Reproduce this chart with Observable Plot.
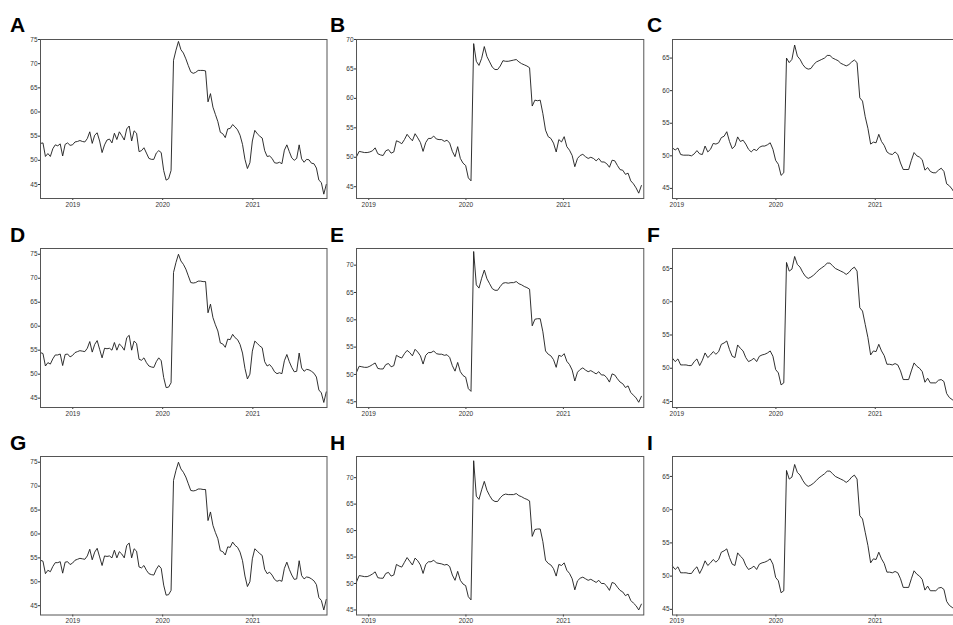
<!DOCTYPE html>
<html><head><meta charset="utf-8">
<script src="https://cdn.jsdelivr.net/npm/d3@7"></script>
<script src="https://cdn.jsdelivr.net/npm/@observablehq/plot@0.6"></script>
<style>
html,body{margin:0;padding:0;background:#fff;}
#wrap{position:relative;width:953px;height:625px;overflow:hidden;background:#fff;}
.lbl{position:absolute;font:bold 21px "Liberation Sans",Arial,sans-serif;line-height:21px;color:#000;}
.panel{position:absolute;}
</style></head><body><div id="wrap"></div>
<script>
// ---- data (values sampled every 10 days from each panel's start date) ----
const panelLabels = ["A","B","C","D","E","F","G","H","I"];
const yearTickLabels = [2019, 2020, 2021];
const yTicks75 = [45, 50, 55, 60, 65, 70, 75];
const yTicks70 = [45, 50, 55, 60, 65, 70];
const yTicks65 = [45, 50, 55, 60, 65];

const seriesA = [
53.5,53.6,50.8,51.4,50.8,52.4,53.2,53.0,53.4,50.9,
53.3,53.6,53.1,53.2,53.8,53.9,54.1,53.9,53.8,54.5,
55.9,53.5,55.2,55.7,54.0,51.6,53.2,54.2,54.4,53.6,
55.6,54.3,55.9,55.1,54.2,56.5,57.1,54.0,56.1,55.6,
51.8,52.0,52.6,51.5,50.4,50.2,50.2,51.5,52.0,51.6,
47.9,45.9,46.2,47.9,70.7,72.8,74.6,72.9,72.2,71.0,
69.6,68.3,68.0,68.2,68.6,68.6,68.6,68.5,62.1,63.8,
61.0,59.5,58.0,55.8,55.5,54.7,56.5,56.6,57.4,56.9,
56.3,55.2,53.3,50.2,48.3,49.5,54.0,56.2,55.5,55.0,
54.6,52.0,50.8,50.9,50.4,49.5,49.4,49.6,49.3,52.1,
53.2,51.8,50.5,50.0,50.4,53.2,50.3,49.6,50.2,50.1,
49.4,49.3,48.4,45.9,45.4,43.0,45.0];

const seriesB = [
50.1,51.0,50.9,50.8,50.8,50.9,51.1,51.6,50.6,50.4,
50.3,51.1,51.3,50.7,50.9,52.8,52.6,52.3,53.0,53.9,
53.3,52.8,54.0,53.3,52.5,51.0,52.5,53.2,53.2,53.6,
53.1,53.0,53.0,52.7,52.9,52.4,51.0,50.1,51.8,49.8,
49.0,48.6,46.5,46.0,69.3,66.3,65.6,66.8,68.8,67.1,
66.2,65.3,64.9,64.9,65.5,66.4,66.3,66.3,66.4,66.5,
66.6,66.2,65.9,65.7,65.5,65.2,58.7,59.7,59.6,59.7,
57.4,54.6,53.5,53.2,52.4,50.9,53.0,52.6,53.5,51.8,
51.2,50.3,48.4,49.8,50.3,50.5,50.1,49.8,50.0,49.8,
49.4,49.8,49.2,49.2,48.9,48.3,49.5,49.4,48.6,47.9,
47.8,47.1,47.3,46.0,45.5,44.8,43.9,45.2];

const seriesC = [
51.2,50.9,51.2,50.2,50.1,50.1,50.1,50.0,50.3,50.8,
50.3,50.2,51.5,50.6,51.0,51.9,51.8,52.0,52.8,53.0,
53.7,52.2,51.1,51.5,52.9,52.2,52.4,51.8,51.0,50.6,
51.0,50.8,51.3,51.5,51.5,51.7,52.0,51.0,49.3,48.7,
47.0,47.4,65.0,64.3,64.8,67.0,65.3,64.8,64.0,63.5,
63.3,63.4,64.0,64.4,64.6,64.8,65.0,65.4,65.4,65.0,
64.8,64.6,64.2,64.0,63.8,64.0,64.4,64.7,64.3,58.9,
58.4,56.0,54.2,51.8,52.1,52.0,53.3,52.2,51.6,50.6,
50.3,50.2,50.6,50.2,48.9,47.9,47.9,47.9,49.3,50.5,
50.0,49.8,49.4,47.8,48.2,47.6,47.4,47.4,47.8,48.1,
47.6,45.7,45.4,44.9,44.2];

const seriesD = [
54.5,54.3,51.7,52.4,52.1,53.2,54.0,54.0,54.2,51.8,
54.1,54.2,53.6,53.9,54.5,54.7,54.9,54.8,54.7,55.4,
56.8,54.6,56.2,57.0,55.2,53.4,55.4,55.3,55.4,55.0,
56.6,55.0,56.3,55.8,55.0,57.6,58.1,55.0,56.9,56.4,
53.1,52.9,53.4,52.4,51.7,51.5,51.4,52.6,53.4,52.8,
49.3,47.2,47.3,48.2,71.2,73.3,75.0,73.6,72.9,71.9,
70.5,69.1,69.0,69.1,69.4,69.4,69.3,69.3,62.8,64.6,
61.8,60.3,59.0,56.5,56.3,55.6,57.3,57.2,58.3,57.6,
57.2,56.2,54.4,51.2,49.0,50.0,54.8,56.9,56.4,55.9,
55.5,52.6,51.7,52.0,51.4,50.5,50.1,50.3,50.1,52.8,
54.1,52.6,51.4,50.5,50.6,54.4,51.3,50.6,51.0,50.9,
50.6,50.2,49.4,46.7,46.1,44.1,46.3];

const seriesE = [
50.4,51.5,51.4,51.3,51.3,51.5,51.8,52.1,51.1,51.0,
51.0,51.8,52.0,51.4,51.6,53.5,53.2,53.0,53.8,54.4,
54.0,53.4,54.6,54.1,53.4,51.9,53.5,54.0,54.0,54.3,
53.8,53.7,53.7,53.5,53.6,53.1,51.6,50.6,52.2,50.5,
49.8,49.5,47.4,46.9,72.5,66.4,65.8,67.6,69.1,67.5,
66.6,65.7,65.4,65.4,66.1,66.7,66.8,66.7,66.8,66.8,
67.0,66.6,66.4,66.1,65.9,65.6,58.9,60.1,60.2,60.2,
57.8,54.3,53.7,53.4,52.7,51.3,53.5,53.3,53.8,52.4,
51.8,50.8,48.8,50.4,50.9,51.2,50.8,50.5,50.7,50.4,
50.1,50.5,49.9,49.9,49.4,48.6,50.1,49.9,49.2,48.6,
48.3,47.6,47.9,46.7,46.2,45.7,44.9,46.0];

const seriesF = [
51.5,51.0,51.4,50.5,50.5,50.5,50.4,50.4,51.0,51.4,
50.4,51.2,52.3,51.6,52.0,52.5,52.1,52.5,53.6,53.8,
54.1,52.8,51.8,51.6,53.5,53.0,52.6,51.6,51.0,51.2,
51.5,51.0,51.8,52.0,52.1,52.3,52.6,51.8,49.8,49.3,
47.5,47.8,65.9,64.6,64.9,66.8,65.6,65.2,64.4,63.8,
63.5,63.7,64.0,64.4,64.8,65.1,65.4,65.8,65.8,65.4,
65.0,64.8,64.6,64.4,64.1,64.4,64.9,65.2,64.6,59.1,
58.6,56.6,54.6,52.0,52.6,52.5,53.6,52.6,51.9,50.6,
50.6,50.5,50.7,50.5,49.6,48.3,48.3,48.3,49.6,50.8,
50.3,50.0,49.5,47.9,48.5,47.8,47.8,47.8,48.2,48.3,
48.0,46.2,45.6,45.3,45.0];

const seriesG = [
54.5,54.3,51.7,52.4,52.1,53.2,54.0,54.0,54.2,51.8,
54.1,54.2,53.6,53.9,54.5,54.7,54.9,54.8,54.7,55.4,
56.8,54.6,56.2,57.0,55.2,53.4,55.4,55.3,55.4,55.0,
56.6,55.0,56.3,55.8,55.0,57.6,58.1,55.0,56.9,56.4,
53.1,52.9,53.4,52.4,51.7,51.5,51.4,52.6,53.4,52.8,
49.3,47.2,47.3,48.2,71.2,73.3,75.0,73.6,72.9,71.9,
70.5,69.1,69.0,69.1,69.4,69.4,69.3,69.3,62.8,64.6,
61.8,60.3,59.0,56.5,56.3,55.6,57.3,57.2,58.3,57.6,
57.2,56.2,54.4,51.2,49.0,50.0,54.8,56.9,56.4,55.9,
55.5,52.6,51.7,52.0,51.4,50.5,50.1,50.3,50.1,52.8,
54.1,52.6,51.4,50.5,50.6,54.4,51.3,50.6,51.0,50.9,
50.6,50.2,49.4,46.7,46.1,44.1,46.3];

const seriesH = [
50.3,51.5,51.4,51.3,51.3,51.5,51.8,52.2,51.1,51.0,
51.0,51.9,52.1,51.4,51.6,53.6,53.3,53.1,54.0,54.9,
54.2,53.5,54.8,54.3,53.5,51.9,53.6,54.1,54.1,54.4,
53.9,53.8,53.7,53.5,53.6,53.2,51.6,50.6,52.3,50.6,
49.9,49.6,47.5,46.9,73.2,66.5,65.9,67.7,69.3,67.6,
66.6,65.8,65.5,65.5,66.2,66.7,66.9,66.8,66.8,66.8,
67.0,66.6,66.4,66.1,65.9,65.6,58.9,60.2,60.3,60.3,
57.9,54.4,53.8,53.5,52.8,51.4,53.6,53.4,53.9,52.5,
51.9,50.9,48.8,50.5,51.0,51.2,50.9,50.6,50.8,50.5,
50.2,50.6,50.0,50.0,49.5,48.7,50.2,50.0,49.3,48.7,
48.4,47.7,48.0,46.8,46.3,45.8,45.0,46.1];

const seriesI = [
51.5,51.0,51.4,50.5,50.5,50.5,50.4,50.4,51.0,51.4,
50.4,51.2,52.3,51.6,52.0,52.5,52.1,52.5,53.6,53.8,
54.1,52.8,51.8,51.6,53.5,53.0,52.6,51.6,51.0,51.2,
51.5,51.0,51.8,52.0,52.1,52.3,52.6,51.8,49.8,49.3,
47.5,47.8,65.9,64.6,64.9,66.8,65.6,65.2,64.4,63.8,
63.5,63.7,64.0,64.4,64.8,65.1,65.4,65.8,65.8,65.4,
65.0,64.8,64.6,64.4,64.1,64.4,64.9,65.2,64.6,59.1,
58.6,56.6,54.6,52.0,52.6,52.5,53.6,52.6,51.9,50.6,
50.6,50.5,50.7,50.5,49.6,48.3,48.3,48.3,49.6,50.8,
50.3,50.0,49.5,47.9,48.5,47.8,47.8,47.8,48.2,48.3,
48.0,46.2,45.6,45.3,45.0];

// ---- panel setup ----
const panels = [
  {values: seriesA, start: "2018-08-23", end: "2021-10-29", yDomain: [42.1, 75.0], yTicks: yTicks75},
  {values: seriesB, start: "2018-11-16", end: "2021-10-30", yDomain: [43.0, 70.0], yTicks: yTicks70},
  {values: seriesC, start: "2018-12-16", end: "2021-10-31", yDomain: [43.45, 67.85], yTicks: yTicks65},
  {values: seriesD, start: "2018-08-23", end: "2021-10-29", yDomain: [43.05, 76.2], yTicks: yTicks75},
  {values: seriesE, start: "2018-11-16", end: "2021-10-30", yDomain: [43.95, 73.05], yTicks: yTicks70},
  {values: seriesF, start: "2018-12-16", end: "2021-10-31", yDomain: [44.1, 68.0], yTicks: yTicks65},
  {values: seriesG, start: "2018-08-23", end: "2021-10-29", yDomain: [43.05, 76.2], yTicks: yTicks75},
  {values: seriesH, start: "2018-11-16", end: "2021-10-30", yDomain: [44.05, 74.0], yTicks: yTicks70},
  {values: seriesI, start: "2018-12-16", end: "2021-10-31", yDomain: [44.15, 68.0], yTicks: yTicks65}
];

// layout (frame boxes)
const frameLeft = [39.5, 355.7, 671.7];
const frameWidth = [286.5, 287.3, 285];
const frameTop = [39.3, 247.7, 456];
const frameHeight = [159, 159, 158.5];
const labelLeft = [10, 330, 647];
const labelTop = [14, 224, 432];
const ml = 30, mr = 6, mt = 6, mb = 16;

const wrap = document.getElementById("wrap");
const yearTicks = yearTickLabels.map(y => new Date(Date.UTC(y, 0, 1)));

panels.forEach((p, i) => {
  const col = i % 3, row = Math.floor(i / 3);
  const start = new Date(p.start + "T00:00:00Z");
  const data = p.values.map((v, k) => ({date: d3.utcDay.offset(start, k * 10), value: v}));
  const fw = frameWidth[col], fh = frameHeight[row];
  const chart = Plot.plot({
    width: fw + ml + mr,
    height: fh + mt + mb,
    marginLeft: ml, marginRight: mr, marginTop: mt, marginBottom: mb,
    style: {fontSize: "6.5px", fontFamily: "'Liberation Sans', Arial, sans-serif", color: "#333", background: "transparent", overflow: "visible"},
    x: {type: "utc", domain: [start, new Date(p.end + "T00:00:00Z")], ticks: yearTicks, tickFormat: d3.utcFormat("%Y"), tickSize: 2, tickPadding: 1.5, label: null},
    y: {domain: p.yDomain, ticks: p.yTicks, tickSize: 2, tickPadding: 1, label: null},
    marks: [
      Plot.line(data, {x: "date", y: "value", stroke: "#1a1a1a", strokeWidth: 0.9}),
      Plot.frame({stroke: "#555", strokeWidth: 1})
    ]
  });
  chart.classList.add("panel");
  chart.style.left = (frameLeft[col] - ml) + "px";
  chart.style.top = (frameTop[row] - mt) + "px";
  wrap.appendChild(chart);

  const lbl = document.createElement("div");
  lbl.className = "lbl";
  lbl.textContent = panelLabels[i];
  lbl.style.left = labelLeft[col] + "px";
  lbl.style.top = labelTop[row] + "px";
  wrap.appendChild(lbl);
});
</script></body></html>
